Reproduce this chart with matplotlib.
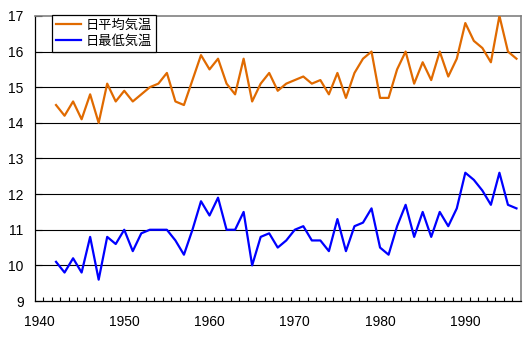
import matplotlib
matplotlib.use("Agg")
import matplotlib.pyplot as plt
import numpy as np

plt.rcParams['font.family'] = ['Liberation Sans', 'Noto Sans CJK JP', 'DejaVu Sans']

years = list(range(1942, 1997))
mean_temp = [14.5, 14.2, 14.6, 14.1, 14.8, 14.0, 15.1, 14.6, 14.9, 14.6,
             14.8, 15.0, 15.1, 15.4, 14.6, 14.5, 15.2, 15.9, 15.5, 15.8,
             15.1, 14.8, 15.8, 14.6, 15.1, 15.4, 14.9, 15.1, 15.2, 15.3,
             15.1, 15.2, 14.8, 15.4, 14.7, 15.4, 15.8, 16.0, 14.7, 14.7,
             15.5, 16.0, 15.1, 15.7, 15.2, 16.0, 15.3, 15.8, 16.8, 16.3,
             16.1, 15.7, 17.0, 16.0, 15.8]
min_temp = [10.1, 9.8, 10.2, 9.8, 10.8, 9.6, 10.8, 10.6, 11.0, 10.4,
            10.9, 11.0, 11.0, 11.0, 10.7, 10.3, 11.0, 11.8, 11.4, 11.9,
            11.0, 11.0, 11.5, 10.0, 10.8, 10.9, 10.5, 10.7, 11.0, 11.1,
            10.7, 10.7, 10.4, 11.3, 10.4, 11.1, 11.2, 11.6, 10.5, 10.3,
            11.1, 11.7, 10.8, 11.5, 10.8, 11.5, 11.1, 11.6, 12.6, 12.4,
            12.1, 11.7, 12.6, 11.7, 11.6]
labels = ['日平均気温', '日最低気温']
xticks = [1940, 1950, 1960, 1970, 1980, 1990]
yticks = [9, 10, 11, 12, 13, 14, 15, 16, 17]

fig = plt.figure(figsize=(5.26, 3.39), dpi=100)
ax = fig.add_axes([0.066, 0.112, 0.924, 0.841])

for y in yticks[1:-1]:
    ax.axhline(y, color='black', lw=0.8, zorder=1)

ax.plot(years, mean_temp, color='#E06A00', lw=1.6, label=labels[0], zorder=3)
ax.plot(years, min_temp, color='#0000FF', lw=1.6, label=labels[1], zorder=3)

ax.set_xlim(1939.5, 1996.5)
ax.set_ylim(9, 17)
ax.set_yticks(yticks)
ax.set_xticks(xticks)
ax.set_xticks(np.arange(1940.5, 1996.0, 1.0), minor=True)
ax.tick_params(axis='x', which='major', length=0, pad=10, labelsize=10)
ax.tick_params(axis='x', which='minor', direction='in', length=3, width=0.8)
ax.tick_params(axis='y', direction='in', length=5, width=0.8, labelsize=10, pad=8)

for s in ['left', 'bottom']:
    ax.spines[s].set_color('black')
    ax.spines[s].set_linewidth(0.9)
for s in ['top', 'right']:
    ax.spines[s].set_color('#808080')
    ax.spines[s].set_linewidth(1.2)

leg = ax.legend(loc='upper left', bbox_to_anchor=(0.035, 1.004), borderaxespad=0,
                fancybox=False, edgecolor='black', framealpha=1,
                prop={'family': ['Noto Sans CJK JP', 'DejaVu Sans'], 'size': 9.5},
                handlelength=1.9, handletextpad=0.35, labelspacing=0.25,
                borderpad=0.3)
leg.get_frame().set_linewidth(0.9)

fig.savefig('out.png', dpi=100)
